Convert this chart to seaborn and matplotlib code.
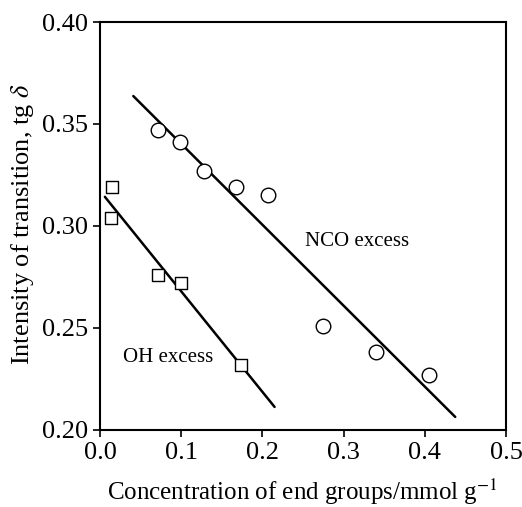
import matplotlib
matplotlib.use("Agg")
import matplotlib.pyplot as plt
import seaborn as sns

sns.set_theme(style="ticks")
plt.rcParams['font.family'] = ['Liberation Serif', 'DejaVu Serif']
plt.rcParams['mathtext.fontset'] = 'stix'
plt.rcParams['text.color'] = 'black'
plt.rcParams['axes.labelcolor'] = 'black'
plt.rcParams['xtick.color'] = 'black'
plt.rcParams['ytick.color'] = 'black'

# NCO excess (circles)
nco_x = [0.071, 0.099, 0.128, 0.167, 0.207, 0.275, 0.340, 0.405]
nco_y = [0.347, 0.341, 0.327, 0.319, 0.315, 0.251, 0.238, 0.227]
# OH excess (squares)
oh_x = [0.0145, 0.013, 0.072, 0.100, 0.174]
oh_y = [0.319, 0.304, 0.276, 0.272, 0.232]
# Fitted lines (endpoints)
nco_fit_x = [0.041, 0.4375]
nco_fit_y = [0.3637, 0.2064]
oh_fit_x = [0.006, 0.215]
oh_fit_y = [0.3143, 0.2113]

xticks = [0.0, 0.1, 0.2, 0.3, 0.4, 0.5]
yticks = [0.20, 0.25, 0.30, 0.35, 0.40]

fig = plt.figure(figsize=(5.22, 5.07), dpi=100)
ax = fig.add_axes([0.1916, 0.1519, 0.7777, 0.8047])

sns.lineplot(x=nco_fit_x, y=nco_fit_y, ax=ax, color='black', linewidth=1.8)
sns.lineplot(x=oh_fit_x, y=oh_fit_y, ax=ax, color='black', linewidth=1.8)
sns.scatterplot(x=nco_x, y=nco_y, ax=ax, marker='o', s=110, facecolor='white',
                edgecolor='black', linewidth=1.0, zorder=3)
sns.scatterplot(x=oh_x, y=oh_y, ax=ax, marker='s', s=80, facecolor='white',
                edgecolor='black', linewidth=1.0, zorder=3)

ax.set_xlim(0, 0.5)
ax.set_ylim(0.20, 0.40)
ax.set_xticks(xticks)
ax.set_xticklabels([f"{v:.1f}" for v in xticks])
ax.set_yticks(yticks)
ax.set_yticklabels([f"{v:.2f}" for v in yticks])
ax.tick_params(direction='out', length=5, width=1.2, labelsize=19, colors='black')
for s in ax.spines.values():
    s.set_linewidth(1.5)
    s.set_color('black')

ax.text(0.252, 0.2925, 'NCO excess', fontsize=15, ha='left', va='center')
ax.text(0.028, 0.2355, 'OH excess', fontsize=15, ha='left', va='center')

ax.set_xlabel(r'Concentration of end groups/mmol g$^{-1}$', fontsize=18)
ax.xaxis.label.set_va('baseline')
ax.xaxis.set_label_coords(0.4988, -0.1716)
ax.set_ylabel(r'Intensity of transition, tg $\delta$', fontsize=19)
ax.yaxis.label.set_va('center')
ax.yaxis.set_label_coords(-0.192, 0.505)

fig.savefig('out.png', dpi=100)
